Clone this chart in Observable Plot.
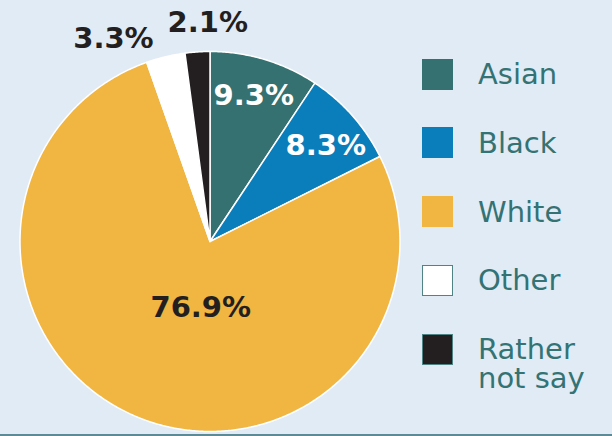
<!DOCTYPE html>
<html>
<head>
<meta charset="utf-8">
<script src="https://cdn.jsdelivr.net/npm/d3@7"></script>
<script src="https://cdn.jsdelivr.net/npm/@observablehq/plot@0.6"></script>
<style>
  html, body { margin: 0; padding: 0; background: #e1ebf6; }
  #wrap { position: relative; width: 612px; height: 436px; background: #e1ebf6; overflow: hidden; font-family: "DejaVu Sans", sans-serif; }
  #wrap svg { position: absolute; left: 0; top: 0; }
  .legend-item { position: absolute; left: 422px; display: flex; align-items: flex-start; }
  .swatch { width: 31px; height: 31px; box-sizing: border-box; flex: none; }
  .legend-label { margin-left: 25px; padding-top: 1.5px; font-size: 29px; line-height: 29px; color: #347373; width: 130px; }
  #rule { position: absolute; left: 0; top: 434px; width: 612px; height: 2px; background: #5e8a95; }
</style>
</head>
<body>
<div id="wrap"></div>
<script>
const categories = ["Asian", "Black", "White", "Other", "Rather not say"];
const values = [9.3, 8.3, 76.9, 3.3, 2.1];
const labels = ["9.3%", "8.3%", "76.9%", "3.3%", "2.1%"];
const colors = ["#347170", "#0a7dbb", "#f1b542", "#ffffff", "#231f20"];

const W = 612, H = 436;
const R = 190, CX = 209.5, CY = 241;

const data = categories.map((c, i) => ({category: c, value: values[i], label: labels[i]}));
const arcs = d3.pie().sort(null).value(d => d.value)(data);

// polygon outline points per slice (unit circle, y up)
const pts = [];
for (const a of arcs) {
  const n = Math.max(4, Math.ceil((a.endAngle - a.startAngle) / (Math.PI / 360)));
  pts.push({category: a.data.category, x: 0, y: 0});
  for (let k = 0; k <= n; k++) {
    const t = a.startAngle + (a.endAngle - a.startAngle) * k / n;
    pts.push({category: a.data.category, x: Math.sin(t), y: Math.cos(t)});
  }
  pts.push({category: a.data.category, x: 0, y: 0});
}

// label placement rules (radius factor, angle nudge in degrees)
const place = {
  "Asian": {r: 0.80, da: 0},
  "Black": {r: 0.79, da: 2},
  "White": {r: 0.35, da: -14},
  "Other": {r: 1.18, da: -12},
  "Rather not say": {r: 1.153, da: 3.2}
};
const labelPts = arcs.map(a => {
  const p = place[a.data.category];
  const t = (a.startAngle + a.endAngle) / 2 + p.da * Math.PI / 180;
  return {category: a.data.category, label: a.data.label, x: p.r * Math.sin(t), y: p.r * Math.cos(t)};
});
const whiteText = new Set(["Asian", "Black"]);

const chart = Plot.plot({
  width: W, height: H,
  margin: 0,
  style: {background: "transparent", overflow: "visible"},
  x: {domain: [-CX / R, (W - CX) / R], axis: null},
  y: {domain: [-(H - CY) / R, CY / R], axis: null},
  color: {domain: categories, range: colors, type: "ordinal"},
  marks: [
    Plot.line(pts, {x: "x", y: "y", z: "category", fill: "category", stroke: "white", strokeWidth: 1.5, strokeLinejoin: "round", curve: "linear"}),
    Plot.text(labelPts.filter(d => whiteText.has(d.category)), {x: "x", y: "y", text: "label", fill: "white", fontSize: 29, fontWeight: "bold", fontFamily: "DejaVu Sans"}),
    Plot.text(labelPts.filter(d => !whiteText.has(d.category)), {x: "x", y: "y", text: "label", fill: "#231f20", fontSize: 29, fontWeight: "bold", fontFamily: "DejaVu Sans"})
  ]
});

const wrap = document.getElementById("wrap");
wrap.appendChild(chart);

categories.forEach((c, i) => {
  const item = document.createElement("div");
  item.className = "legend-item";
  item.style.top = (58.5 + 68.75 * i) + "px";
  const sw = document.createElement("div");
  sw.className = "swatch";
  sw.style.background = colors[i];
  if (c === "Other" || c === "Rather not say") sw.style.border = "1px solid #4f8384";
  const lab = document.createElement("div");
  lab.className = "legend-label";
  lab.textContent = c;
  item.appendChild(sw);
  item.appendChild(lab);
  wrap.appendChild(item);
});

const rule = document.createElement("div");
rule.id = "rule";
wrap.appendChild(rule);
</script>
</body>
</html>
